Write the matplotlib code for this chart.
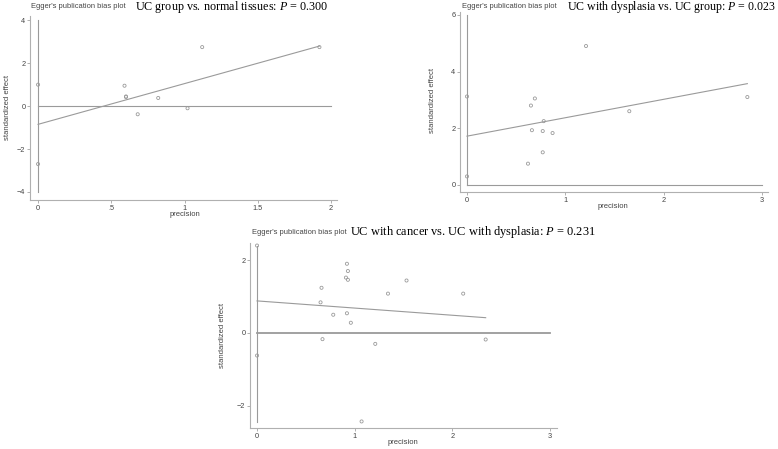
import matplotlib.pyplot as plt

W, H = 778, 449

# panel 1: UC group vs. normal tissues
p1_x = [0.59, 0.60, 0.60, 0.68, 0.82, 1.02, 1.12, 1.92]
p1_y = [0.95, 0.45, 0.42, -0.38, 0.38, -0.10, 2.75, 2.75]
p1_ci = [1.0, -2.7]
p1_fit = (-0.85, 1.90)
p1_title = "UC group vs. normal tissues: $\\mathit{P}$ = 0.300"

# panel 2: UC with dysplasia vs. UC group
p2_x = [0.62, 0.65, 0.66, 0.69, 0.77, 0.77, 0.78, 0.87, 1.21, 1.65, 2.85]
p2_y = [0.75, 2.80, 1.93, 3.05, 1.90, 1.15, 2.25, 1.83, 4.90, 2.60, 3.10]
p2_ci = [3.12, 0.30]
p2_fit = (1.72, 0.65)
p2_title = "UC with dysplasia vs. UC group: $\\mathit{P}$ = 0.023"

# panel 3: UC with cancer vs. UC with dysplasia
p3_x = [0.65, 0.66, 0.67, 0.78, 0.91, 0.92, 0.92, 0.93, 0.93, 0.96, 1.07, 1.21, 1.34, 1.53, 2.11, 2.34]
p3_y = [0.84, 1.24, -0.17, 0.50, 1.52, 1.90, 0.54, 1.46, 1.70, 0.28, -2.43, -0.30, 1.08, 1.44, 1.08, -0.18]
p3_ci = [2.40, -0.62]
p3_fit = (0.88, -0.197)
p3_title = "UC with cancer vs. UC with dysplasia: $\\mathit{P}$ = 0.231"

GRAY = "#9a9a9a"
TXT = "#444444"
plt.rcParams['font.family'] = ['Liberation Sans', 'DejaVu Sans']
plt.rcParams['mathtext.fontset'] = 'custom'
plt.rcParams['mathtext.it'] = 'Liberation Serif:italic'
plt.rcParams['mathtext.rm'] = 'Liberation Serif'

fig = plt.figure(figsize=(W / 100, H / 100), dpi=100)


def box(l, t, r, b):
    return [l / W, 1 - b / H, (r - l) / W, (b - t) / H]


def panel(rect, xs, ys, ci, fit, xlim, ylim, xticks, xlabels, yticks, vspan, zero_end,
          title, tsize, tpos, ylab_pos, xlab_pos, zero_lw=0.8):
    ax = fig.add_axes(box(*rect))
    ax.set_xlim(*xlim)
    ax.set_ylim(*ylim)
    for s in ['top', 'right']:
        ax.spines[s].set_visible(False)
    for s in ['left', 'bottom']:
        ax.spines[s].set_color("#b0b0b0")
        ax.spines[s].set_linewidth(0.8)
    ax.set_xticks(xticks)
    ax.set_xticklabels(xlabels)
    ax.set_yticks(yticks)
    ax.tick_params(colors="#b0b0b0", labelcolor=TXT, labelsize=5.3, length=2.5, width=0.7, pad=0.8)
    ax.patch.set_alpha(0)
    # vertical line at precision 0 and zero reference line
    ax.plot([0, 0], vspan, color=GRAY, lw=0.8)
    ax.plot([0, zero_end], [0, 0], color=GRAY, lw=zero_lw)
    # regression line
    x_end = max(xs)
    ax.plot([0, x_end], [fit[0], fit[0] + fit[1] * x_end], color=GRAY, lw=0.8)
    ax.scatter(xs, ys, s=5, facecolors='none', edgecolors=GRAY, linewidths=0.6, zorder=3)
    ax.scatter([0, 0], ci, s=5, facecolors='none', edgecolors=GRAY, linewidths=0.6, zorder=3)
    fig.text(tpos[0] / W, 1 - tpos[2] / H, "Egger's publication bias plot", fontsize=5.4,
             color=TXT, va='center', ha='left')
    fig.text(tpos[1] / W, 1 - tpos[2] / H, title, fontsize=tsize, family='Liberation Serif',
             color='black', va='center', ha='left')
    fig.text(ylab_pos[0] / W, 1 - ylab_pos[1] / H, "standardized effect", fontsize=5.5,
             color=TXT, rotation=90, va='center', ha='center')
    fig.text(xlab_pos[0] / W, 1 - xlab_pos[1] / H, "precision", fontsize=5.5,
             color=TXT, va='center', ha='center')
    return ax


panel((30, 16, 337, 200), p1_x, p1_y, p1_ci, p1_fit, (-0.055, 2.04), (-4.376, 4.2),
      [0, 0.5, 1, 1.5, 2], ['0', '.5', '1', '1.5', '2'], [-4, -2, 0, 2, 4],
      [-4, 4], 2, p1_title, 8.7, (31, 135, 7), (8, 107), (185, 214))

panel((460, 12, 768, 192), p2_x, p2_y, p2_ci, p2_fit, (-0.071, 3.06), (-0.25, 6.1),
      [0, 1, 2, 3], ['0', '1', '2', '3'], [0, 2, 4, 6],
      [0, 6], 3, p2_title, 8.6, (462, 567, 7), (433, 100), (613, 207))

panel((250, 243, 557, 428), p3_x, p3_y, p3_ci, p3_fit, (-0.072, 3.07), (-2.61, 2.47),
      [0, 1, 2, 3], ['0', '1', '2', '3'], [-2, 0, 2],
      [-2.45, 2.4], 3, p3_title, 8.9, (252, 350, 232), (222, 335), (403, 443), zero_lw=1.3)

fig.savefig("out.png", dpi=100)
